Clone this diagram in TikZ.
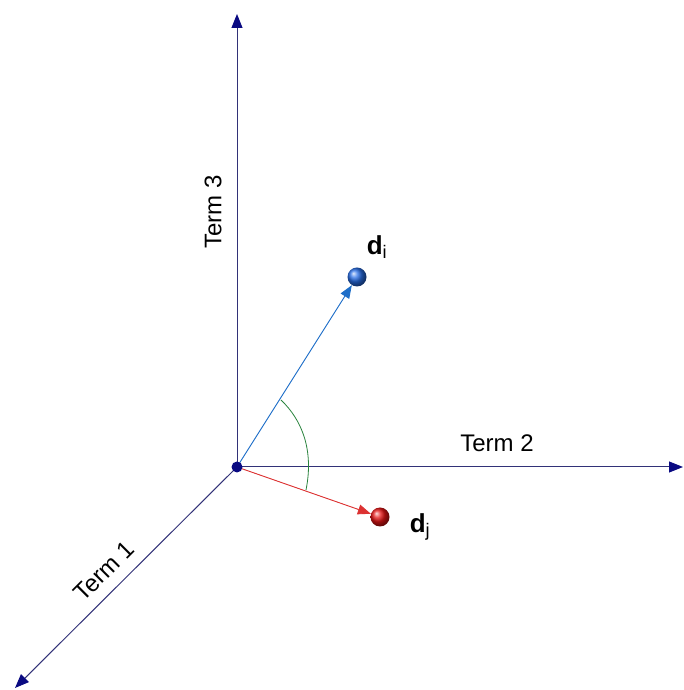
\documentclass[tikz,border=0pt]{standalone}
\usepackage{fontspec}
\setmainfont{Liberation Sans}
\usetikzlibrary{arrows.meta,shapes.geometric}
\definecolor{axisline}{RGB}{50,50,120}
\definecolor{axishead}{RGB}{10,10,130}
\definecolor{bluevec}{RGB}{30,110,200}
\definecolor{blueball}{RGB}{40,110,230}
\definecolor{redvec}{RGB}{220,50,50}
\definecolor{redball}{RGB}{230,20,20}
\definecolor{arcgreen}{RGB}{40,130,60}
\tikzset{
  axisarrow/.style={draw=axisline, line width=1pt, -{Triangle[length=14pt,width=11pt,color=axishead,fill=axishead]}},
  vecarrow/.style={line width=0.9pt, -{Triangle[length=13pt,width=10pt]}},
  lbl/.style={font=\fontsize{24}{28}\selectfont, inner sep=0pt},
  dlbl/.style={font=\fontsize{26}{30}\selectfont\bfseries, inner sep=0pt},
  ballnode/.style={circle, minimum size=19pt, inner sep=0pt},
}
\begin{document}
\begin{tikzpicture}[x=1pt,y=1pt]
\useasboundingbox (0,0) rectangle (683,690);
\coordinate (O) at (237,223);
\coordinate (T) at (237,676);
\coordinate (R) at (683,223);
\coordinate (BL) at (15,2);
\draw[axisarrow] (O) -- (T);
\draw[axisarrow] (O) -- (R);
\draw[axisarrow] (O) -- (BL);
\node[ballnode, ball color=blueball] (di) at (357,413) {};
\node[ballnode, ball color=redball] (dj) at (380,173) {};
\draw[vecarrow, draw=bluevec, fill=bluevec] (O) -- (di);
\draw[vecarrow, draw=redvec, fill=redvec] (O) -- (dj);
\draw[arcgreen, line width=0.8pt] (281,290) .. controls (302,270) and (314,240) .. (306,200);
\node[circle, fill=axishead, minimum size=11pt, inner sep=0pt] (orig) at (O) {};
\node[lbl, rotate=90] (t3) at (213,478) {Term 3};
\node[lbl] (t2) at (497,247) {Term 2};
\node[lbl, rotate=45] (t1) at (104,119) {Term 1};
\node[dlbl] (dil) at (377,443) {d$_{\mathrm{i}}$};
\node[dlbl] (djl) at (420,163) {d$_{\mathrm{j}}$};
\end{tikzpicture}
\end{document}
